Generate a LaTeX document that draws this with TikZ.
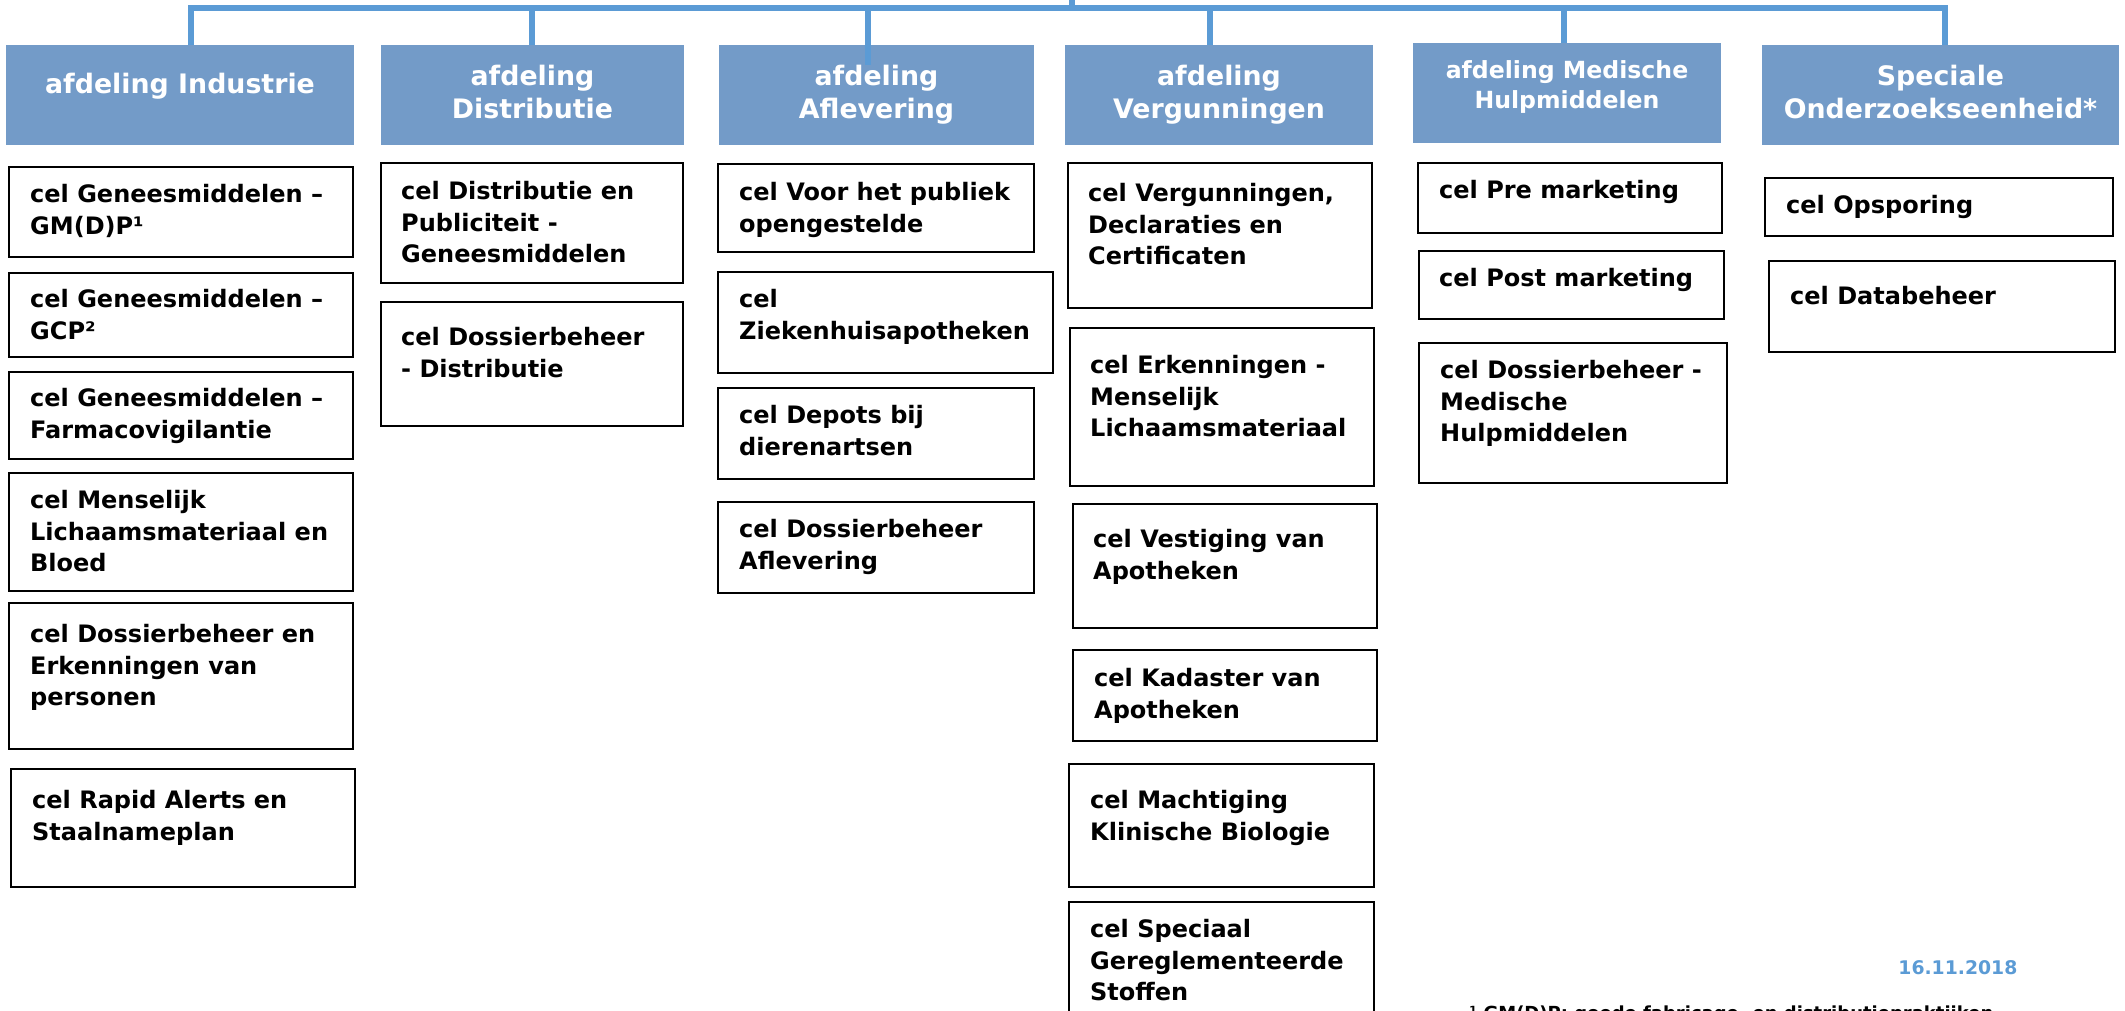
\documentclass[tikz,border=0pt]{standalone}
\usepackage{fontspec}
\setmainfont{DejaVu Sans}
\usetikzlibrary{fit}
\definecolor{linecol}{RGB}{91,155,213}
\definecolor{deptfill}{RGB}{115,155,200}
\newcommand\mkcell[8]{%
  \node[cellbox, fit={(#2,#3) (#4,#5)}] (#1) {};
  \node[celltext] (#1-t) at ([shift={(#6,#7)}]#1.north west) {#8};}
\begin{document}
\begin{tikzpicture}[x=0.5pt,y=-0.5pt,
  deptbox/.style={fill=deptfill, draw=none, inner sep=0pt},
  depttext/.style={text=white, font=\fontsize{13.4}{16.5}\selectfont\bfseries, align=center, inner sep=0pt, anchor=north},
  deptsmall/.style={font=\fontsize{11.8}{15}\selectfont\bfseries},
  cellbox/.style={draw=black, line width=1.2pt, inner sep=0pt},
  celltext/.style={font=\fontsize{12}{15.85}\selectfont\bfseries, align=left, inner sep=0pt, anchor=north west},
  conn/.style={draw=linecol, line width=2.8pt, line join=miter},
  datetext/.style={text=linecol, font=\fontsize{9.4}{11}\selectfont\bfseries, inner sep=0pt, anchor=base west},
  notetext/.style={font=\fontsize{9}{11}\selectfont\bfseries, inner sep=0pt, anchor=base west}]
\useasboundingbox (0,0) rectangle (2125,1011);
\begin{scope}
\clip (0,0) rectangle (2125,1011);

% department boxes
\node[deptbox, fit={(6,45) (354,145)}] (D1) {};
\node[deptbox, fit={(381,45) (684,145)}] (D2) {};
\node[deptbox, fit={(719,45) (1034,145)}] (D3) {};
\node[deptbox, fit={(1065,45) (1373,145)}] (D4) {};
\node[deptbox, fit={(1413,43) (1721,143)}] (D5) {};
\node[deptbox, fit={(1762,45) (2119,145)}] (D6) {};
\node[depttext] (D1-t) at ([shift={(0,28)}]D1.north) {afdeling Industrie};
\node[depttext] (D2-t) at ([shift={(0,20)}]D2.north) {afdeling\\Distributie};
\node[depttext] (D3-t) at ([shift={(0,20)}]D3.north) {afdeling\\Aflevering};
\node[depttext] (D4-t) at ([shift={(0,20)}]D4.north) {afdeling\\Vergunningen};
\node[depttext, deptsmall] (D5-t) at ([shift={(0,18)}]D5.north) {afdeling Medische\\Hulpmiddelen};
\node[depttext] (D6-t) at ([shift={(0,20)}]D6.north) {Speciale\\Onderzoekseenheid*};

% connectors
\coordinate (top) at (1072,-10);
\coordinate (b0) at (1072,8);
\coordinate (b1) at (191,8);
\coordinate (b2) at (532,8);
\coordinate (b3) at (868,8);
\coordinate (b4) at (1210,8);
\coordinate (b5) at (1564,8);
\coordinate (b6) at (1945,8);
\coordinate (d3end) at (868,65);
\draw[conn] (b1 |- D1.north) -- (b1) -- (b6) -- (b6 |- D6.north);
\draw[conn] (top) -- (b0);
\draw[conn] (b2) -- (b2 |- D2.north);
\draw[conn] (b3) -- (d3end);
\draw[conn] (b4) -- (b4 |- D4.north);
\draw[conn] (b5) -- (b5 |- D5.north);

% column 1
\mkcell{C1a}{9}{167}{353}{257}{22}{18}{cel Geneesmiddelen –\\GM(D)P¹}
\mkcell{C1b}{9}{273}{353}{357}{22}{17}{cel Geneesmiddelen –\\GCP²}
\mkcell{C1c}{9}{372}{353}{459}{22}{17}{cel Geneesmiddelen –\\Farmacovigilantie}
\mkcell{C1d}{9}{473}{353}{591}{22}{18}{cel Menselijk\\Lichaamsmateriaal en\\Bloed}
\mkcell{C1e}{9}{603}{353}{749}{22}{22}{cel Dossierbeheer en\\Erkenningen van\\personen}
\mkcell{C1f}{11}{769}{355}{887}{22}{22}{cel Rapid Alerts en\\Staalnameplan}
% column 2
\mkcell{C2a}{381}{163}{683}{283}{21}{19}{cel Distributie en\\Publiciteit -\\Geneesmiddelen}
\mkcell{C2b}{381}{302}{683}{426}{21}{26}{cel Dossierbeheer\\- Distributie}
% column 3
\mkcell{C3a}{718}{164}{1034}{252}{22}{19}{cel Voor het publiek\\opengestelde}
\mkcell{C3b}{718}{272}{1053}{373}{22}{18}{cel\\Ziekenhuisapotheken}
\mkcell{C3c}{718}{388}{1034}{479}{22}{18}{cel Depots bij\\dierenartsen}
\mkcell{C3d}{718}{502}{1034}{593}{22}{18}{cel Dossierbeheer\\Aflevering}
% column 4
\mkcell{C4a}{1068}{163}{1372}{308}{21}{21}{cel Vergunningen,\\Declaraties en\\Certificaten}
\mkcell{C4b}{1070}{328}{1374}{486}{21}{28}{cel Erkenningen -\\Menselijk\\Lichaamsmateriaal}
\mkcell{C4c}{1073}{504}{1377}{628}{21}{26}{cel Vestiging van\\Apotheken}
\mkcell{C4d}{1073}{650}{1377}{741}{22}{19}{cel Kadaster van\\Apotheken}
\mkcell{C4e}{1069}{764}{1374}{887}{22}{27}{cel Machtiging\\Klinische Biologie}
\mkcell{C4f}{1069}{902}{1374}{1040}{22}{18}{cel Speciaal\\Gereglementeerde\\Stoffen}
% column 5
\mkcell{C5a}{1418}{163}{1722}{233}{22}{18}{cel Pre marketing}
\mkcell{C5b}{1419}{251}{1724}{319}{21}{18}{cel Post marketing}
\mkcell{C5c}{1419}{343}{1727}{483}{22}{18}{cel Dossierbeheer -\\Medische\\Hulpmiddelen}
% column 6
\mkcell{C6a}{1765}{178}{2113}{236}{22}{18}{cel Opsporing}
\mkcell{C6b}{1769}{261}{2115}{352}{22}{26}{cel Databeheer}

% date and footnote (cut off at the lower edge, as in the reference)
\node[datetext] (date) at (1898,974) {16.11.2018};
\node[notetext] (note) at (1469,1019) {¹ GM(D)P: goede fabricage- en distributiepraktijken};
\end{scope}
\end{tikzpicture}
\end{document}
